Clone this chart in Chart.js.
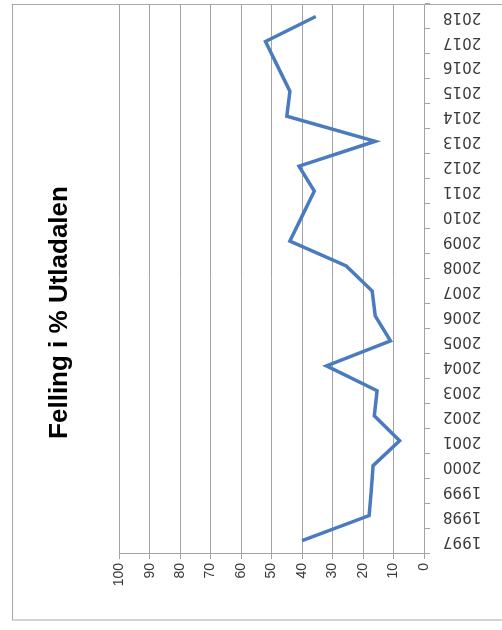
<!DOCTYPE html>
<html>
<head>
<meta charset="utf-8">
<script src="https://cdn.jsdelivr.net/npm/chart.js@4"></script>
<style>
  html, body { margin: 0; padding: 0; background: #fff; }
  #wrap { width: 502px; height: 630px; }
</style>
</head>
<body>
<div id="wrap"><canvas id="fellingDiagram"></canvas></div>
<script>
// years (category axis) and felling share in percent
const years = ['1997', '1998', '1999', '2000', '2001', '2002', '2003', '2004', '2005', '2006', '2007',
               '2008', '2009', '2010', '2011', '2012', '2013', '2014', '2015', '2016', '2017', '2018'];
const felling = [40, 18, 17.3, 16.7, 8, 16.3, 15.4, 32, 11, 16, 17,
                 25.5, 44, 40, 36, 41, 16, 45, 44, 48, 52, 35.5];
const valueTicks = [0, 10, 20, 30, 40, 50, 60, 70, 80, 90, 100];

const gridColor = '#a3a3a3';

// thin grey frame around the whole chart
const framePlugin = {
    id: 'frame',
    afterDraw(chart) {
        const ctx = chart.ctx;
        ctx.save();
        ctx.strokeStyle = '#a8a8a8';
        ctx.lineWidth = 1;
        ctx.strokeRect(12.5, 4.5, 500, 615.5);
        ctx.restore();
    }
};

const ctx = document.getElementById('fellingDiagram').getContext('2d');
new Chart(ctx, {
    type: 'line',
    data: {
        labels: years,
        datasets: [{
            label: 'Felling i %',
            data: felling,
            borderColor: '#4a7bbf',
            borderWidth: 3.5,
            pointRadius: 0,
            fill: false,
            tension: 0
        }]
    },
    options: {
        indexAxis: 'y', // the chart is lying on its side
        responsive: true,
        maintainAspectRatio: false,
        animation: false,
        layout: { padding: { top: 4, bottom: 9, left: 0, right: 12 } },
        plugins: {
            legend: { display: false },
            tooltip: { enabled: false },
            title: {
                display: true,
                position: 'left',
                text: 'Felling i % Utladalen',
                color: '#000',
                font: { family: 'Liberation Sans', size: 26, weight: 'bold' },
                padding: { top: 44, bottom: 44 }
            }
        },
        scales: {
            x: {
                type: 'linear',
                position: 'bottom',
                reverse: true,
                min: 0,
                max: 100,
                afterBuildTicks: scale => { scale.ticks = valueTicks.map(v => ({ value: v })); },
                afterFit: scale => {
                    scale.height = 68;
                    scale.paddingLeft = 0;
                    scale.paddingRight = 0;
                },
                grid: { color: gridColor, lineWidth: 1, tickLength: 6 },
                border: { color: gridColor },
                ticks: {
                    minRotation: 90,
                    maxRotation: 90,
                    padding: 4,
                    color: '#3a3a3a',
                    font: { family: 'Liberation Sans', size: 14 }
                }
            },
            y: {
                type: 'category',
                position: 'right',
                reverse: true,
                offset: true,
                afterFit: scale => {
                    scale.width = 66;
                    scale.paddingTop = 0;
                    scale.paddingBottom = 0;
                },
                grid: { offset: true, drawOnChartArea: false, drawTicks: true, tickLength: 6, color: gridColor },
                border: { color: gridColor },
                ticks: {
                    autoSkip: false,
                    minRotation: 180,
                    maxRotation: 180,
                    crossAlign: 'center',
                    padding: 13,
                    color: '#3a3a3a',
                    font: { family: 'DejaVu Sans', size: 15 }
                }
            }
        }
    },
    plugins: [framePlugin]
});
</script>
</body>
</html>
